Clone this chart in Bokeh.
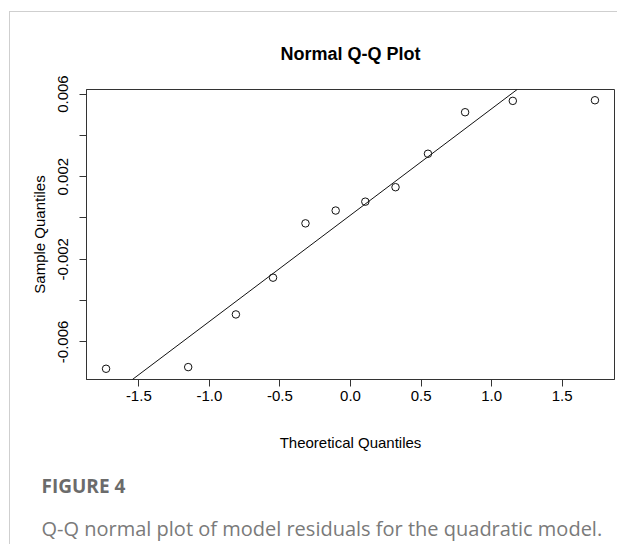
import numpy as np
from bokeh.plotting import figure
from bokeh.models import Range1d, FixedTicker, Title, Slope
from bokeh.embed import file_html
from bokeh.resources import INLINE

# Data (theoretical quantiles vs sample residual quantiles)
theoretical = [-1.732, -1.150, -0.812, -0.549, -0.319, -0.105,
               0.105, 0.319, 0.549, 0.812, 1.150, 1.732]
sample = [-0.00730, -0.00722, -0.00467, -0.00289, -0.00026, 0.00036,
          0.00079, 0.00149, 0.00311, 0.00512, 0.00567, 0.00570]

x_ticks = [-1.5, -1.0, -0.5, 0.0, 0.5, 1.0, 1.5]
x_tick_labels = ["-1.5", "-1.0", "-0.5", "0.0", "0.5", "1.0", "1.5"]
y_ticks = [-0.006, -0.004, -0.002, 0.0, 0.002, 0.004, 0.006]
y_tick_labels = ["-0.006", "", "-0.002", "", "0.002", "", "0.006"]

title_text = "Normal Q-Q Plot"
x_label = "Theoretical Quantiles"
y_label = "Sample Quantiles"
fig_label = "FIGURE 4"
caption = "Q-Q normal plot of model residuals for the quadratic model."

# R-style 4% range expansion
xs = np.array(theoretical)
ys = np.array(sample)
xpad = 0.04 * (xs.max() - xs.min())
ypad = 0.04 * (ys.max() - ys.min())

p = figure(width=617, height=544, output_backend="svg", toolbar_location=None,
           x_range=Range1d(xs.min() - xpad, xs.max() + xpad),
           y_range=Range1d(ys.min() - ypad, ys.max() + ypad),
           min_border_left=86, min_border_right=3, min_border_top=89,
           min_border_bottom=165)
p.background_fill_color = "white"
p.border_fill_alpha = 0
p.styles = {
    "background-color": "white",
    "background-image": "linear-gradient(#cfcfcf, #cfcfcf), linear-gradient(#cfcfcf, #cfcfcf)",
    "background-size": "100% 1px, 1px 100%",
    "background-position": "9px 11px, 9px 11px",
    "background-repeat": "no-repeat",
}
p.grid.visible = False
p.outline_line_color = "#333333"
p.outline_line_width = 1

FONT = "Liberation Sans"

# Title
p.title.text = title_text
p.title.align = "center"
p.title.text_font = FONT
p.title.text_font_size = "18px"
p.title.text_font_style = "bold"
p.title.text_color = "black"
p.title.standoff = 52

for ax in (p.xaxis[0], p.yaxis[0]):
    ax.axis_line_color = "#333333"
    ax.major_tick_line_color = "#333333"
    ax.major_tick_out = 7
    ax.major_tick_in = 0
    ax.minor_tick_line_color = None
    ax.major_label_text_font = FONT
    ax.major_label_text_font_size = "15px"
    ax.major_label_text_color = "black"
    ax.axis_label_text_font = FONT
    ax.axis_label_text_font_size = "15px"
    ax.axis_label_text_font_style = "normal"
    ax.axis_label_text_color = "black"

p.xaxis.ticker = FixedTicker(ticks=x_ticks)
p.xaxis.major_label_overrides = dict(zip(x_ticks, x_tick_labels))
p.xaxis.major_label_standoff = 4
p.xaxis.axis_label = x_label
p.xaxis.axis_label_standoff = 30

p.yaxis.ticker = FixedTicker(ticks=y_ticks)
p.yaxis.major_label_overrides = dict(zip(y_ticks, y_tick_labels))
p.yaxis.major_label_orientation = "vertical"
p.yaxis.major_label_standoff = 11
p.yaxis.axis_label = y_label
p.yaxis.axis_label_standoff = 8

# Points
p.scatter(theoretical, sample, marker="circle", size=7.5,
          fill_color=None, line_color="#111111", line_width=1)

# qqline through the first and third quartiles
q1, q3 = np.quantile(ys, [0.25, 0.75])
z1, z3 = -0.6744898, 0.6744898
slope = (q3 - q1) / (z3 - z1)
intercept = q1 - slope * z1
p.add_layout(Slope(gradient=slope, y_intercept=intercept,
                   line_color="#111111", line_width=1))

# Figure caption
t1 = Title(text=fig_label, align="left", offset=-45, text_font="Open Sans",
           text_font_size="19px", text_font_style="bold", text_color="#6b6b6b",
           standoff=34)
t2 = Title(text=caption, align="left", offset=-45, text_font="Open Sans",
           text_font_size="20px", text_font_style="normal", text_color="#7a7a7a",
           standoff=-6)
p.add_layout(t1, "below")
p.add_layout(t2, "below")

open("out.html", "w").write(file_html(p, INLINE))
